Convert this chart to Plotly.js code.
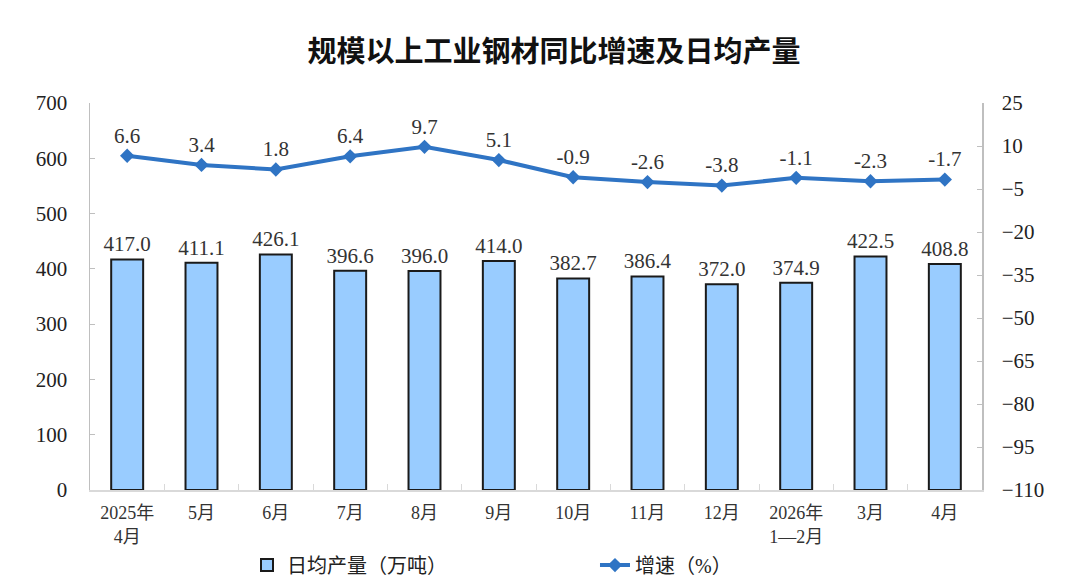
<!DOCTYPE html>
<html>
<head>
<meta charset="utf-8">
<script src="https://cdn.plot.ly/plotly-3.0.1.min.js"></script>
<style>html,body{margin:0;padding:0;background:#fff;}#chart{width:1080px;height:585px;}</style>
</head>
<body>
<div id="chart"></div>
<script>
const categories = ["2025年<br>4月","5月","6月","7月","8月","9月","10月","11月","12月","2026年<br>1—2月","3月","4月"];
const dailyOutput = [417.0, 411.1, 426.1, 396.6, 396.0, 414.0, 382.7, 386.4, 372.0, 374.9, 422.5, 408.8];
const growthRate = [6.6, 3.4, 1.8, 6.4, 9.7, 5.1, -0.9, -2.6, -3.8, -1.1, -2.3, -1.7];
const leftTicks = [0,100,200,300,400,500,600,700];
const rightTicks = [-110,-95,-80,-65,-50,-35,-20,-5,10,25];

const serif = '"Liberation Serif","Noto Sans CJK SC",serif';

const bars = {
  type: 'bar', x: categories, y: dailyOutput, name: '日均产量（万吨）',
  width: 0.43,
  marker: {color: '#99CCFF', line: {color: '#1a1a1a', width: 2}},
  text: dailyOutput.map(v => v.toFixed(1)), textposition: 'outside', constraintext: 'none',
  textfont: {family: serif, size: 21, color: '#333'}, cliponaxis: false,
  yaxis: 'y'
};
const line = {
  type: 'scatter', mode: 'lines+markers+text', x: categories, y: growthRate, name: '增速（%）',
  line: {color: '#2F74C4', width: 4},
  marker: {symbol: 'diamond', size: 11, color: '#2F74C4'},
  text: growthRate.map(v => v.toFixed(1)), textposition: 'top center',
  textfont: {family: serif, size: 21, color: '#333'}, cliponaxis: false,
  yaxis: 'y2'
};

const layout = {
  width: 1080, height: 585,
  margin: {l: 90, r: 98, t: 103, b: 95, autoexpand: false},
  paper_bgcolor: '#fff', plot_bgcolor: '#fff',
  title: {text: '规模以上工业钢材同比增速及日均产量', x: 0.513, xanchor: 'center', y: 0.912, yanchor: 'middle',
          font: {family: '"Noto Sans CJK SC",sans-serif', size: 29, color: '#111', weight: 'bold'}},
  showlegend: true,
  legend: {orientation: 'h', x: 0.176, xanchor: 'left', yref: 'container', y: 0.034, yanchor: 'middle',
           font: {family: serif, size: 20, color: '#222'}, entrywidth: 303, entrywidthmode: 'pixels',
           traceorder: 'normal'},
  xaxis: {
    type: 'category', range: [-0.5, 11.5], showgrid: false, showline: true, linecolor: '#d9d9d9', linewidth: 1.5,
    ticks: 'inside', tickson: 'boundaries', ticklen: 6, tickcolor: '#d9d9d9',
    tickfont: {family: serif, size: 18, color: '#333'}, zeroline: false, ticklabelstandoff: 6
  },
  yaxis: {
    range: [0, 700], tickvals: leftTicks, showgrid: false, zeroline: false,
    showline: true, linecolor: '#bfbfbf', linewidth: 1.5, ticks: 'inside', ticklen: 5, tickcolor: '#bfbfbf',
    tickfont: {family: serif, size: 21, color: '#222'}, ticklabelstandoff: 17
  },
  yaxis2: {
    range: [-110, 25], tickvals: rightTicks, overlaying: 'y', side: 'right', showgrid: false, zeroline: false,
    showline: true, linecolor: '#bfbfbf', linewidth: 1.5, ticks: 'inside', ticklen: 5, tickcolor: '#bfbfbf',
    tickfont: {family: serif, size: 21, color: '#222'}, ticklabelstandoff: 14
  }
};

Plotly.newPlot('chart', [bars, line], layout, {displayModeBar: false, staticPlot: true});
</script>
</body>
</html>
